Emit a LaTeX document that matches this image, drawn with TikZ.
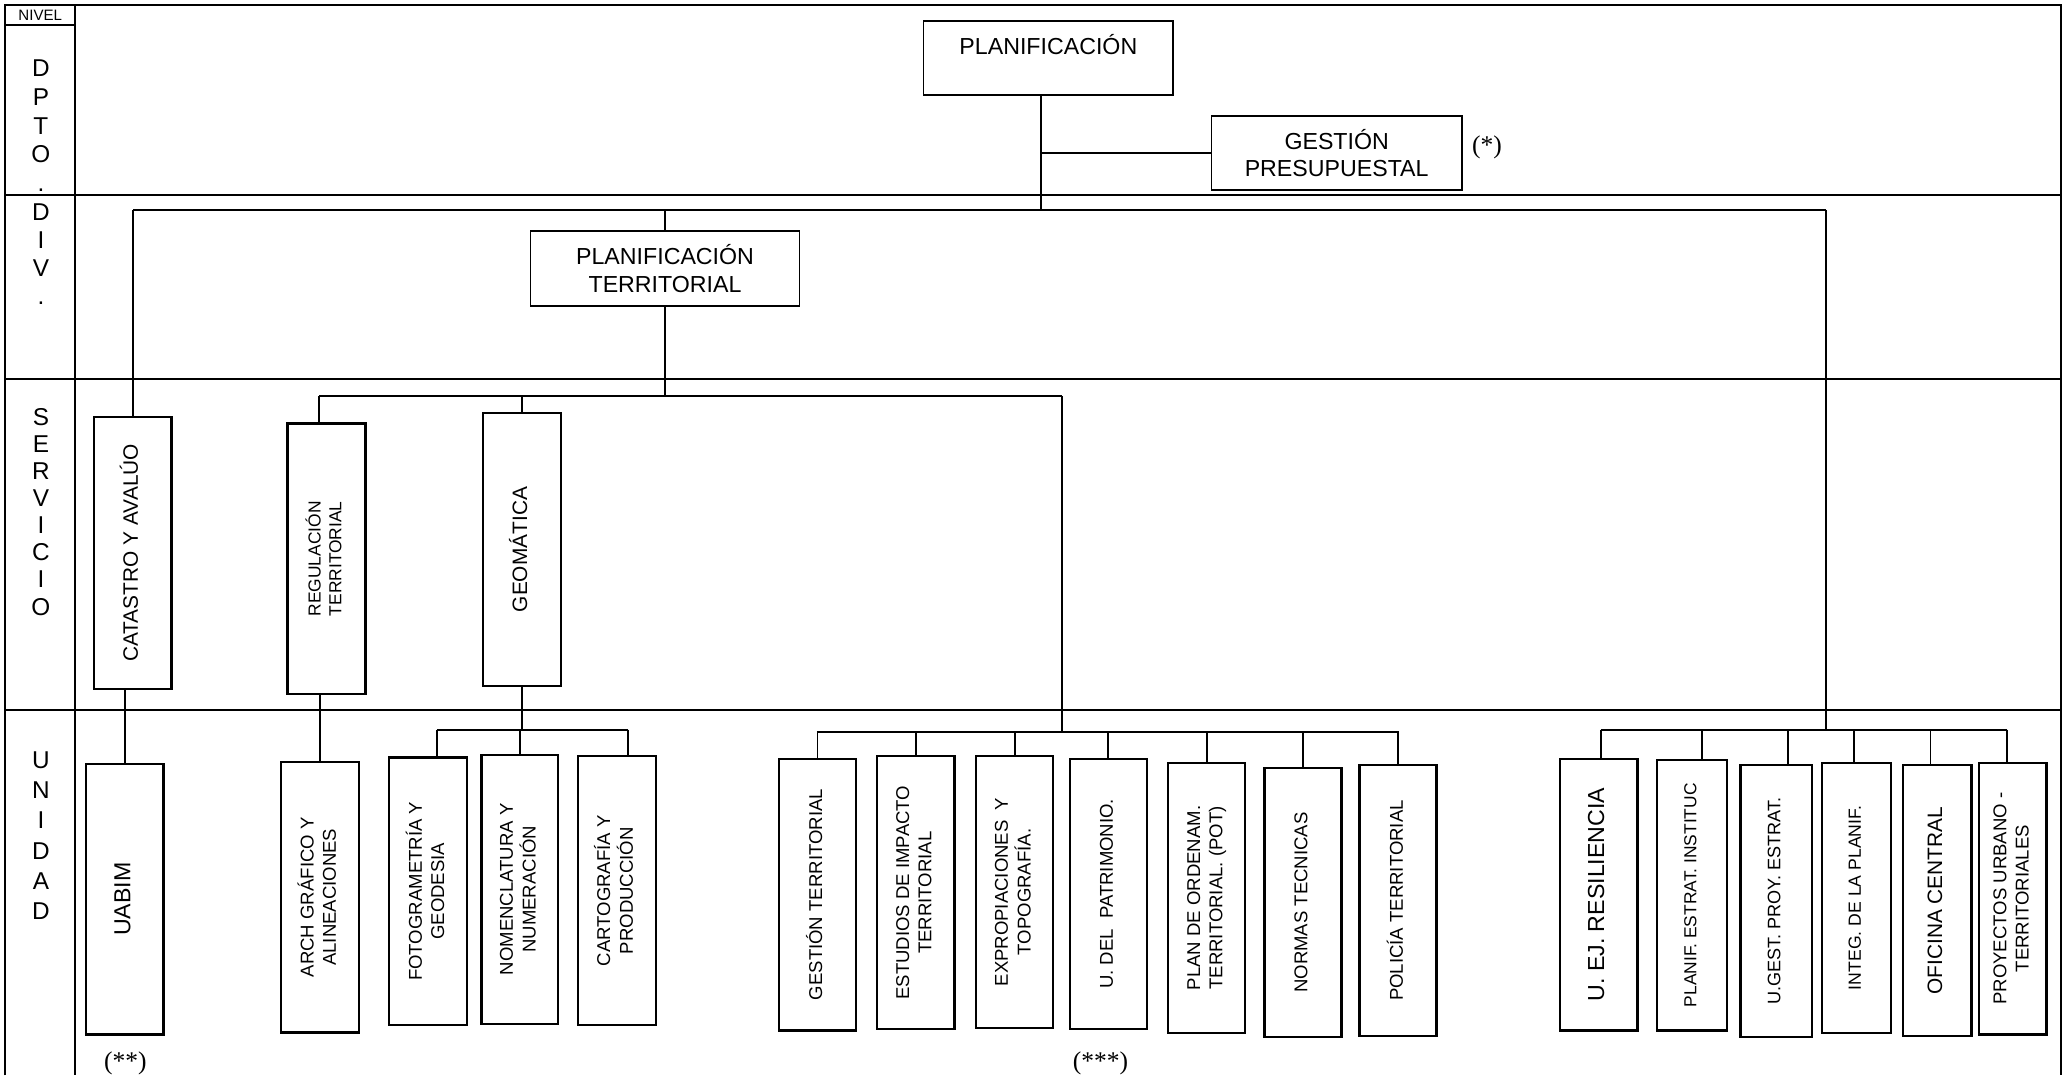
\documentclass[tikz,border=0pt]{standalone}
\usepackage{fontspec}
\usepackage{graphicx}
\setmainfont{Liberation Sans}
\newfontfamily\notefont{Liberation Serif}
\usetikzlibrary{calc}

\tikzset{
  frameline/.style={line width=0.8pt},
  link/.style={line width=0.8pt},
  hbox/.style={draw, line width=0.6pt, align=center, inner sep=0pt, font=\fontsize{10}{12}\selectfont},
  vbox/.style={draw, line width=1pt, inner sep=0pt, minimum width=11.7mm, minimum height=41mm, font=\fontsize{8}{9.6}\selectfont},
  lvl/.style={align=center, inner sep=0pt, anchor=north},
  note/.style={inner sep=0pt, font=\notefont\fontsize{11}{13}\selectfont}
}
\newcommand{\vtxt}[1]{\rotatebox{90}{\begin{tabular}{@{}c@{}}#1\end{tabular}}}

\begin{document}
\begin{tikzpicture}[x=0.2mm, y=-0.2mm]
\useasboundingbox (0,0) rectangle (1568,815);
% level grid
\draw[frameline] (4,815) -- (4,4) -- (1562,4) -- (1562,815);
\draw[frameline] (57,4) -- (57,815);
\draw[frameline] (4,19) -- (57,19);
\foreach \y in {148,287,538} \draw[frameline] (4,\y) -- (1562,\y);

\node[inner sep=0pt, font=\fontsize{6.5}{7}\selectfont] (nivel) at (30.5,11.5) {NIVEL};
\node[lvl, font=\fontsize{10.5}{12.4}\selectfont] (dpto) at (31,45) {D\\P\\T\\O\\.};
\node[lvl, font=\fontsize{10.5}{12.1}\selectfont] (div) at (31,154) {D\\I\\V\\.};
\node[lvl, font=\fontsize{10.5}{11.7}\selectfont] (serv) at (31,309) {S\\E\\R\\V\\I\\C\\I\\O};
\node[lvl, font=\fontsize{10.5}{13.1}\selectfont] (unid) at (31,569) {U\\N\\I\\D\\A\\D};

% departamento y division
\node[hbox, minimum width=37.8mm, minimum height=11.2mm] (plan) at (794.5,44) {PLANIFICACIÓN\\~};
\node[hbox, minimum width=38mm, minimum height=11.2mm] (gest) at (1013,116) {GESTIÓN\\PRESUPUESTAL};
\node[hbox, minimum width=40.8mm, minimum height=11.4mm] (plant) at (504,203.5) {PLANIFICACIÓN\\TERRITORIAL};
\node[note] (n1) at (1127,112) {(*)};

% servicios
\node[vbox, minimum width=11.8mm, minimum height=41.2mm, font=\fontsize{9}{10.8}\selectfont] (cat) at (100.5,419) {\vtxt{CATASTRO Y AVALÚO}};
\node[vbox, minimum width=11.8mm, minimum height=41mm, font=\fontsize{7.5}{9}\selectfont] (reg) at (247.5,423.5) {\vtxt{REGULACIÓN\\TERRITORIAL}};
\node[vbox, minimum width=11.8mm, minimum height=41.4mm, font=\fontsize{9}{10.8}\selectfont] (geo) at (395.5,416.5) {\vtxt{GEOMÁTICA}};

% unidades
\node[vbox, minimum width=11.8mm, font=\fontsize{10}{12}\selectfont] (uabim) at (94.5,681.5) {\vtxt{UABIM}};
\node[vbox, minimum width=11.8mm] (arch) at (242.5,680) {\vtxt{ARCH GRÁFICO Y\\ALINEACIONES}};
\node[vbox, minimum width=11.8mm, minimum height=40.6mm] (foto) at (324.5,675.5) {\vtxt{FOTOGRAMETRÍA Y\\GEODESIA}};
\node[vbox, minimum width=11.6mm, minimum height=40.8mm] (nom) at (394,674) {\vtxt{NOMENCLATURA Y\\NUMERACIÓN}};
\node[vbox, minimum width=11.8mm, minimum height=40.8mm] (carto) at (467.5,675) {\vtxt{CARTOGRAFÍA Y\\PRODUCCIÓN}};

\node[vbox, minimum height=41.2mm] (gt) at (619.5,678) {\vtxt{GESTIÓN TERRITORIAL}};
\node[vbox, minimum height=41.4mm] (est) at (694,676.5) {\vtxt{ESTUDIOS DE IMPACTO\\TERRITORIAL}};
\node[vbox, minimum height=41.2mm] (exp) at (769,676) {\vtxt{EXPROPIACIONES~~Y\\TOPOGRAFÍA.}};
\node[vbox] (pat) at (840,677.5) {\vtxt{U. DEL~~PATRIMONIO.}};
\node[vbox] (pot) at (914.5,680.5) {\vtxt{PLAN DE ORDENAM.\\TERRITORIAL. (POT)}};
\node[vbox, minimum height=40.8mm] (nor) at (987.5,684) {\vtxt{NORMAS TECNICAS}};
\node[vbox] (pol) at (1059.5,682.5) {\vtxt{POLICÍA TERRITORIAL}};

\node[vbox, minimum width=11.8mm, minimum height=41.2mm, font=\fontsize{10}{12}\selectfont] (res) at (1211.5,678) {\vtxt{U. EJ. RESILIENCIA}};
\node[vbox, minimum width=10.6mm, minimum height=41mm, font=\fontsize{7.5}{9}\selectfont] (pei) at (1282.5,678.5) {\vtxt{PLANIF. ESTRAT. INSTITUC}};
\node[vbox, minimum width=10.8mm, minimum height=41.2mm, font=\fontsize{7.8}{9.4}\selectfont] (gpe) at (1346,683) {\vtxt{U.GEST. PROY. ESTRAT.}};
\node[vbox, minimum width=10.4mm, minimum height=41mm, font=\fontsize{7.6}{9.1}\selectfont] (int) at (1407,680.5) {\vtxt{INTEG. DE LA PLANIF.}};
\node[vbox, minimum width=10.4mm, minimum height=41mm, font=\fontsize{9}{10.8}\selectfont] (ofc) at (1468,682.5) {\vtxt{OFICINA CENTRAL}};
\node[vbox, minimum width=10.2mm, minimum height=41.2mm] (pur) at (1525.5,681) {\vtxt{PROYECTOS URBANO -\\TERRITORIALES}};

\node[note] (n2) at (95,806) {(**)};
\node[note] (n3) at (834,806) {(***)};

% lineas de division
\coordinate (dl) at (101,159);
\coordinate (dr) at (1384,159);
\coordinate (pv) at (789,159);
\draw[link] (dl) -- (dr);
\draw[link] (pv |- plan.south) -- (pv);
\draw[link] (pv |- gest.west) -- (gest.west);
\draw[link] (plant.north) -- (plant.north |- dl);
\draw[link] (dl) -- (dl |- cat.north);

% lineas de servicio
\coordinate (sl) at (242,300);
\coordinate (sr) at (805,300);
\draw[link] (sl) -- (sr);
\draw[link] (plant.south) -- (plant.south |- sl);
\draw[link] (sl) -- (sl |- reg.north);
\draw[link] (geo.north) -- (geo.north |- sl);

% lineas de unidad
\draw[link] (uabim.north) -- (uabim.north |- cat.south);
\draw[link] (arch.north) -- (arch.north |- reg.south);

\coordinate (gl) at (331,553);
\coordinate (gr) at (476,553);
\draw[link] (gl) -- (gr);
\draw[link] (geo.south) -- (geo.south |- gl);
\foreach \n/\x in {foto/331,nom/394,carto/476}
  \draw[link] (\x,553) -- (\x,0 |- \n.north);

\coordinate (ul) at (619,555);
\coordinate (ur) at (1060,555);
\draw[link] (ul) -- (ur);
\draw[link] (sr) -- (sr |- ul);
\foreach \n in {gt,est,exp,pat,pot,nor,pol}
  \draw[link] (\n.north) -- (\n.north |- ul);

\coordinate (rl) at (1213,553);
\coordinate (rr) at (1521,553);
\draw[link] (rl) -- (rr);
\draw[link] (dr) -- (dr |- rl);
\foreach \n/\x in {res/1213,pei/1290,gpe/1355,int/1405,ofc/1463,pur/1521}
  \draw[link] (\x,553) -- (\x,0 |- \n.north);
\end{tikzpicture}
\end{document}
